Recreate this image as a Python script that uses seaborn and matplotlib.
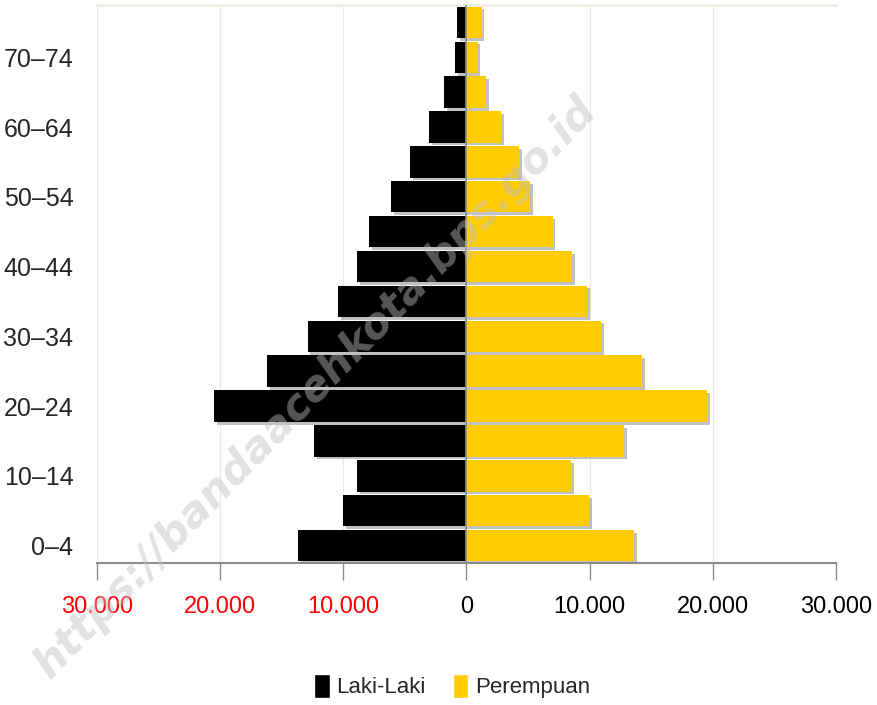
import numpy as np
import pandas as pd
import seaborn as sns
import matplotlib
matplotlib.use('Agg')
import matplotlib.pyplot as plt
import matplotlib.patheffects as pe
from matplotlib.patches import Patch

# age groups, youngest first
age_groups = ["0–4", "5–9", "10–14", "15–19", "20–24", "25–29", "30–34", "35–39",
              "40–44", "45–49", "50–54", "55–59", "60–64", "65–69", "70–74", "75+"]
laki_laki = [13700, 10000, 8900, 12400, 20500, 16200, 12900, 10400,
             8900, 7900, 6100, 4550, 3050, 1800, 900, 730]
perempuan = [13600, 9950, 8500, 12800, 19550, 14250, 10950, 9800,
             8600, 7000, 5200, 4300, 2800, 1600, 900, 1230]
x_ticks = [-30000, -20000, -10000, 0, 10000, 20000, 30000]

sns.set_theme(style="white")
plt.rcParams['font.family'] = ['Liberation Sans', 'DejaVu Sans']

df = pd.DataFrame({"age": age_groups, "laki": laki_laki, "perempuan": perempuan})
df = df.iloc[::-1].reset_index(drop=True)
df["laki_neg"] = -df["laki"]

fig = plt.figure(figsize=(8.78, 7.05), dpi=100)
ax = fig.add_axes([0.1105, 0.2014, 0.8415, 0.7916])

sns.barplot(data=df, x="laki_neg", y="age", orient="h", color="#000000",
            width=0.9, saturation=1, ax=ax)
sns.barplot(data=df, x="perempuan", y="age", orient="h", color="#FFCC00",
            width=0.9, saturation=1, ax=ax)

shadow = [pe.SimplePatchShadow(offset=(2, -2), shadow_rgbFace="#999999", alpha=0.6), pe.Normal()]
for p in ax.patches:
    p.set_path_effects(shadow)
    p.set_linewidth(0)

ax.set_xlim(-30000, 30000)
ax.set_ylim(15.5, -0.5)
ax.set_xticks(x_ticks)
ax.set_xticklabels([f"{abs(v):,}".replace(",", ".") for v in x_ticks], fontsize=17)
for lbl, v in zip(ax.get_xticklabels(), x_ticks):
    lbl.set_color("#FF0000" if v < 0 else "#000000")

labels = list(df["age"])
ax.set_yticks(range(len(labels)))
ax.set_yticklabels([l if (len(labels) - 1 - i) % 2 == 0 else "" for i, l in enumerate(labels)],
                   fontsize=18)
ax.tick_params(axis="y", left=False, length=0, pad=17)
ax.tick_params(axis="x", bottom=True, length=12, width=1, color="#8c8c8c",
               direction="out", pad=12)

ax.set_xlabel("")
ax.set_ylabel("")
ax.grid(axis="x", color="#ebebdf", linewidth=1)
ax.set_axisbelow(True)
for s in ["left", "right"]:
    ax.spines[s].set_visible(False)
ax.spines["top"].set_color("#efefe6")
ax.spines["top"].set_linewidth(2)
ax.spines["bottom"].set_color("#8c8c8c")
ax.spines["bottom"].set_linewidth(1.5)
ax.axvline(0, color="#8c8c8c", linewidth=1.2, zorder=3)

handles = [Patch(facecolor="#000000", label="Laki-Laki"),
           Patch(facecolor="#FFCC00", label="Perempuan")]
fig.legend(handles=handles, loc="center", bbox_to_anchor=(0.515, 0.027), ncol=2,
           frameon=False, fontsize=16, handlelength=0.7, handleheight=1.3,
           handletextpad=0.3, columnspacing=1.2)

fig.text(0.36, 0.45, "https://bandaacehkota.bps.go.id", rotation=46,
         fontsize=31, fontweight="bold", fontstyle="italic", color="#c0c0c0",
         alpha=0.45, ha="center", va="center", family=["DejaVu Sans"])

fig.savefig("out.png", dpi=100)
